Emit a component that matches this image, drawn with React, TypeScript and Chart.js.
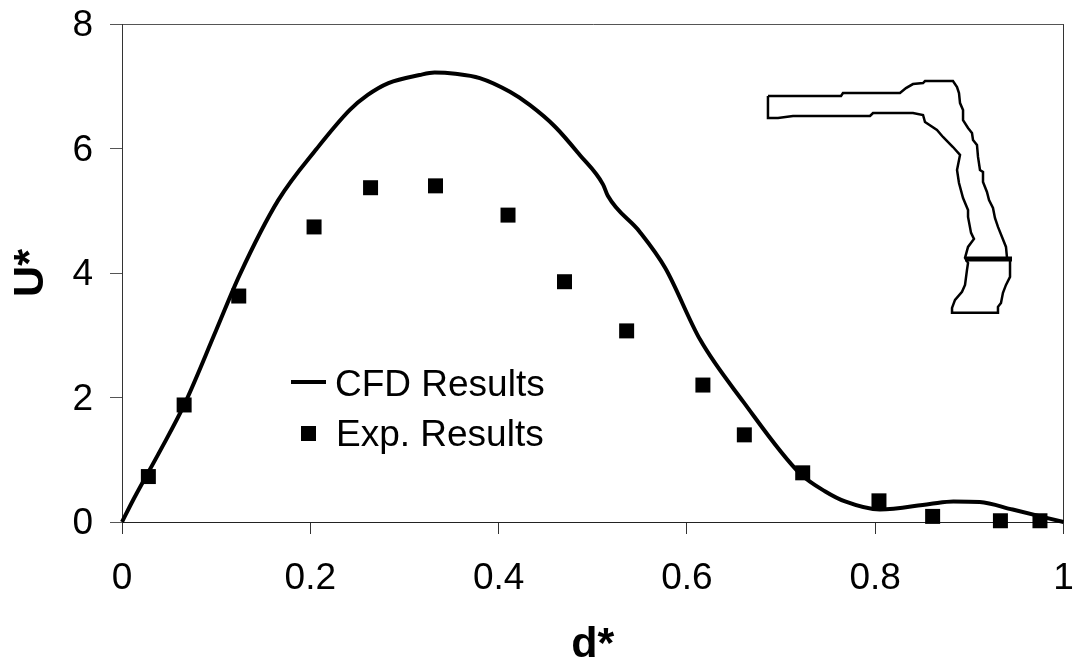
import React, { useEffect, useRef } from "react";
import { Chart, registerables } from "chart.js";

Chart.register(...registerables);

const FONT = "'Liberation Sans', Arial, sans-serif";

const cfdX = [0, 0.0117, 0.04, 0.066, 0.1, 0.125, 0.166, 0.207, 0.242, 0.261, 0.283, 0.316, 0.332, 0.354, 0.38, 0.412, 0.433, 0.46, 0.486, 0.511, 0.516, 0.55, 0.577, 0.614, 0.66, 0.72, 0.747, 0.768, 0.805, 0.858, 0.883, 0.911, 0.946, 1];
const cfdY = [0, 0.35, 1.13, 1.88, 3.08, 3.97, 5.17, 6.0, 6.62, 6.86, 7.05, 7.18, 7.22, 7.2, 7.13, 6.91, 6.7, 6.35, 5.9, 5.42, 5.24, 4.66, 4.08, 2.93, 1.93, 0.78, 0.49, 0.33, 0.2, 0.29, 0.33, 0.32, 0.2, 0];

const expX = [0.028, 0.066, 0.124, 0.204, 0.264, 0.333, 0.41, 0.47, 0.536, 0.617, 0.661, 0.723, 0.804, 0.861, 0.933, 0.975];
const expY = [0.73, 1.88, 3.63, 4.74, 5.37, 5.4, 4.93, 3.86, 3.07, 2.2, 1.4, 0.79, 0.34, 0.09, 0.02, 0.02];

const outlineX = [0.6861, 0.7637, 0.7658, 0.8263, 0.8327, 0.8401, 0.8508, 0.8529, 0.8826, 0.8869, 0.889, 0.8901, 0.8933, 0.8933, 0.8986, 0.9028, 0.9039, 0.9081, 0.9092, 0.9113, 0.9145, 0.9145, 0.9187, 0.9209, 0.9251, 0.9272, 0.9304, 0.9347, 0.9389, 0.94, 0.9432, 0.9432, 0.9389, 0.9357, 0.9336, 0.9304, 0.9304, 0.8816, 0.8816, 0.8848, 0.8922, 0.8954, 0.8975, 0.8986, 0.8954, 0.8986, 0.9049, 0.9018, 0.8986, 0.8986, 0.8933, 0.889, 0.8869, 0.8901, 0.8826, 0.872, 0.8656, 0.8529, 0.8508, 0.8401, 0.7977, 0.7945, 0.7127, 0.6968, 0.6861, 0.6861];
const outlineY = [6.843, 6.843, 6.891, 6.891, 6.971, 7.035, 7.051, 7.083, 7.083, 6.987, 6.891, 6.73, 6.618, 6.457, 6.329, 6.249, 6.136, 6.056, 5.864, 5.655, 5.623, 5.462, 5.302, 5.173, 5.045, 4.884, 4.74, 4.579, 4.419, 4.242, 4.226, 3.937, 3.809, 3.681, 3.52, 3.456, 3.36, 3.36, 3.44, 3.568, 3.697, 3.809, 4.05, 4.162, 4.242, 4.419, 4.547, 4.644, 4.9, 5.013, 5.205, 5.446, 5.655, 5.896, 6.024, 6.185, 6.297, 6.425, 6.538, 6.57, 6.57, 6.522, 6.522, 6.49, 6.49, 6.843];

const sectionX = [0.8954, 0.9453];
const sectionY = [4.226, 4.226];

const xTicks = { min: 0, max: 1, step: 0.2 };
const yTicks = { min: 0, max: 8, step: 2 };
const seriesNames = ["CFD Results", "Exp. Results"];

const zip = (xs: number[], ys: number[]) => xs.map((x, i) => ({ x, y: ys[i] }));

const legendPlugin = {
  id: "insetLegend",
  afterDraw(chart: any) {
    const ctx = chart.ctx;
    ctx.save();
    ctx.fillStyle = "#000";
    ctx.strokeStyle = "#000";
    ctx.font = `37px ${FONT}`;
    ctx.textBaseline = "alphabetic";
    ctx.textAlign = "left";
    ctx.lineWidth = 4;
    ctx.beginPath();
    ctx.moveTo(291, 382);
    ctx.lineTo(326, 382);
    ctx.stroke();
    ctx.fillText(seriesNames[0], 335, 396);
    ctx.fillRect(301, 426, 15, 15);
    ctx.fillText(seriesNames[1], 336, 446);
    ctx.restore();
  },
};

export default function App() {
  const ref = useRef<HTMLCanvasElement>(null);
  useEffect(() => {
    document.body.style.margin = "0";
    const chart = new Chart(ref.current as HTMLCanvasElement, {
      type: "scatter",
      plugins: [legendPlugin],
      data: {
        datasets: [
          {
            label: seriesNames[0],
            data: zip(cfdX, cfdY),
            showLine: true,
            borderColor: "#000",
            borderWidth: 4,
            pointRadius: 0,
            cubicInterpolationMode: "monotone",
            clip: false,
            order: 2,
          },
          {
            label: seriesNames[1],
            data: zip(expX, expY),
            showLine: false,
            pointStyle: "rect",
            pointRadius: 10.6,
            pointBackgroundColor: "#000",
            pointBorderColor: "#000",
            pointBorderWidth: 0,
            clip: false,
            order: 1,
          },
          {
            label: "Duct outline",
            data: zip(outlineX, outlineY),
            showLine: true,
            borderColor: "#000",
            borderWidth: 2.5,
            pointRadius: 0,
            tension: 0,
          },
          {
            label: "Measurement section",
            data: zip(sectionX, sectionY),
            showLine: true,
            borderColor: "#000",
            borderWidth: 5,
            pointRadius: 0,
            tension: 0,
          },
        ],
      } as any,
      options: {
        animation: false,
        responsive: false,
        layout: { padding: { top: 24, right: 12.5, left: 0, bottom: 0 } },
        plugins: { legend: { display: false }, tooltip: { enabled: false } },
        scales: {
          x: {
            type: "linear",
            min: xTicks.min,
            max: xTicks.max,
            afterFit: (s: any) => { s.height = 144; s.paddingLeft = 0; s.paddingRight = 0; },
            ticks: {
              stepSize: xTicks.step,
              color: "#000",
              padding: 23,
              maxRotation: 0,
              callback: (v: any) => String(Math.round(v * 10) / 10),
              font: { family: FONT, size: 37 },
            },
            border: { color: "#222", width: 1 },
            grid: {
              color: (c: any) => (c.tick && Math.abs(c.tick.value - xTicks.max) < 1e-6 ? "#333" : "rgba(0,0,0,0)"),
              tickColor: "#333",
              tickLength: 12,
              lineWidth: 1,
            },
            title: {
              display: true,
              text: "d*",
              color: "#000",
              font: { family: FONT, size: 43, weight: "bold", lineHeight: 0.95 },
              padding: { top: 0, bottom: 0 },
            },
          },
          y: {
            type: "linear",
            min: yTicks.min,
            max: yTicks.max,
            afterFit: (s: any) => { s.width = 122; s.paddingTop = 0; s.paddingBottom = 0; },
            ticks: {
              stepSize: yTicks.step,
              color: "#000",
              padding: 17,
              labelOffset: 2,
              font: { family: FONT, size: 37 },
            },
            border: { color: "#333", width: 1 },
            grid: {
              color: (c: any) => (c.tick && c.tick.value === yTicks.max ? "#555" : "rgba(0,0,0,0)"),
              tickColor: "#555",
              tickLength: 12,
              lineWidth: 1,
            },
            title: {
              display: true,
              text: "U*",
              color: "#000",
              font: { family: FONT, size: 43, weight: "bold" },
              padding: { top: 5, bottom: 0 },
            },
          },
        },
      },
    } as any);
    return () => chart.destroy();
  }, []);
  return <canvas ref={ref} width={1076} height={666} style={{ display: "block" }} />;
}
